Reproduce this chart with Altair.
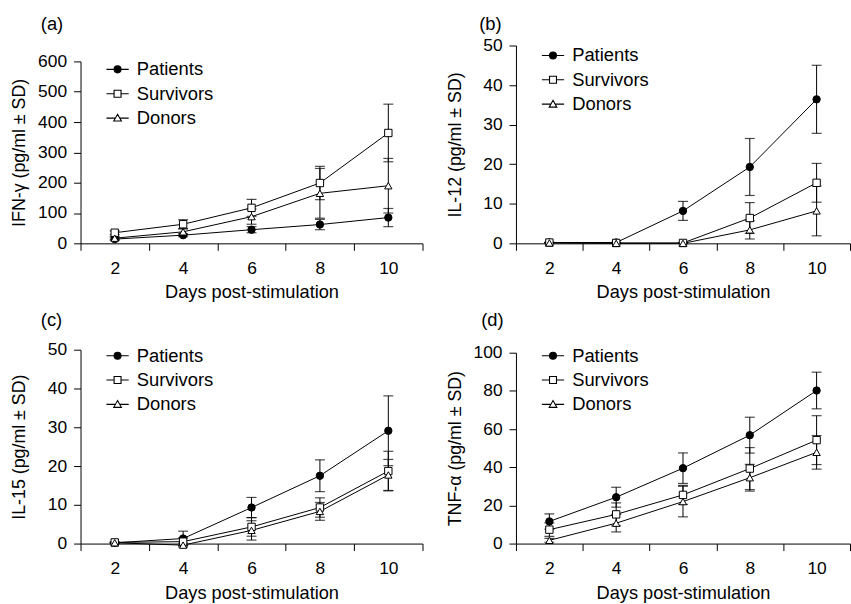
import altair as alt
import pandas as pd

days = ["2", "4", "6", "8", "10"]
series = ["Patients", "Survivors", "Donors"]

# Panel (a) IFN-gamma
a_pat = [14, 27, 45, 62, 85]
a_pat_sd = [4, 5, 10, 17, 30]
a_sur = [35, 63, 117, 199, 364]
a_sur_sd = [6, 15, 28, 55, 95]
a_don = [17, 38, 88, 165, 190]
a_don_sd = [5, 10, 25, 82, 90]

# Panel (b) IL-12
b_pat = [0.2, 0.2, 8.2, 19.3, 36.4]
b_pat_sd = [0.1, 0.1, 2.4, 7.2, 8.6]
b_sur = [0.2, 0.1, 0.1, 6.4, 15.3]
b_sur_sd = [0.0, 0.0, 0.1, 3.9, 4.9]
b_don = [0.1, 0.0, 0.0, 3.4, 8.2]
b_don_sd = [0.0, 0.0, 0.0, 2.3, 6.3]

# Panel (c) IL-15
c_pat = [0.2, 1.3, 9.3, 17.5, 29.1]
c_pat_sd = [0.2, 1.9, 2.6, 4.1, 9.0]
c_sur = [0.3, 0.5, 4.3, 9.3, 18.7]
c_sur_sd = [0.1, 1.0, 2.4, 2.5, 5.1]
c_don = [0.2, -0.4, 3.4, 8.3, 17.7]
c_don_sd = [0.1, 0.5, 2.5, 2.3, 4.0]

# Panel (d) TNF-alpha
d_pat = [11.6, 24.3, 39.5, 56.8, 80.2]
d_pat_sd = [4.0, 5.2, 8.0, 9.4, 9.6]
d_sur = [7.3, 15.3, 25.5, 39.3, 54.2]
d_sur_sd = [3.5, 6.0, 5.0, 11.0, 12.8]
d_don = [1.7, 10.7, 22.0, 34.5, 47.8]
d_don_sd = [1.0, 4.6, 8.0, 7.0, 8.8]

FONT = "Liberation Sans"
FS_TICK = 17.5
FS_YT = 17.9
FS_XT = 18.3
FS_LEG = 18.5
FS_TAG = 18.5

# legend glyphs: marker with a short line through it
LEG_PATHS = [
    "M-3.2,0H-1M1,0H3.2M-1,0A1,1 0 1,0 1,0A1,1 0 1,0 -1,0Z",
    "M-3.2,0H-1M1,0H3.2M-1,-1H1V1H-1Z",
    "M-3.2,0H-0.55M0.55,0H3.2M0,-1.1L1.1,0.85H-1.1Z",
]


def make_df(vals):
    rows = []
    for s, (m, sd) in zip(series, vals):
        for d, mv, sv in zip(days, m, sd):
            rows.append({"day": d, "series": s, "mean": mv, "lo": mv - sv, "hi": mv + sv})
    return pd.DataFrame(rows)


legend_df = pd.DataFrame({"series": series, "day": ["2"] * 3, "mean": [None] * 3})


def leg_props(leg_y):
    return dict(
        title=None,
        orient="none",
        legendX=17,
        legendY=leg_y,
        symbolSize=49,
        symbolStrokeWidth=1.1,
        symbolStrokeColor="black",
        symbolOpacity=1,
        symbolOffset=11,
        labelOffset=10,
        labelFontSize=FS_LEG,
        labelFont=FONT,
        labelColor="black",
        rowPadding=5.5,
    )


def panel(df, label, ytitle, ymax, ystep, width, height, top, lab_dx, lab_dy, leg_y):
    X = alt.X(
        "day:O",
        sort=days,
        scale=alt.Scale(type="band", paddingInner=0, paddingOuter=0),
        axis=alt.Axis(
            title="Days post-stimulation",
            titleFontSize=FS_XT,
            labelAngle=0,
            tickBand="extent",
            labelPadding=9,
            titlePadding=7.3,
        ),
    )
    # value axis runs from the bottom of the panel up to `top` px below its top edge
    yscale = alt.Scale(domain=[0, ymax], nice=False, zero=False, range=[height, top])
    yaxis = alt.Axis(
        title=ytitle,
        titleFontSize=FS_YT,
        values=list(range(0, ymax + 1, ystep)),
        labelOverlap=False,
        labelPadding=7,
        titleX=-52,
        titleY=(height + top) / 2,
    )
    base = alt.Chart(df)
    rules = base.mark_rule(color="black", strokeWidth=1).encode(
        x=X, y=alt.Y("lo:Q", scale=yscale, axis=yaxis), y2="hi:Q"
    )
    cap_hi = base.mark_tick(orient="horizontal", size=10, thickness=1.2, color="black").encode(
        x=X, y=alt.Y("hi:Q", scale=yscale, axis=yaxis)
    )
    cap_lo = base.mark_tick(orient="horizontal", size=10, thickness=1.2, color="black").encode(
        x=X, y=alt.Y("lo:Q", scale=yscale, axis=yaxis)
    )
    lines = base.mark_line(color="black", strokeWidth=1).encode(
        x=X, y=alt.Y("mean:Q", scale=yscale, axis=yaxis), detail="series:N"
    )
    pts = base.mark_point(stroke="black", strokeWidth=1, opacity=1, fillOpacity=1, size=55).encode(
        x=X,
        y=alt.Y("mean:Q", scale=yscale, axis=yaxis),
        shape=alt.Shape(
            "series:N",
            scale=alt.Scale(domain=series, range=["circle", "square", "triangle-up"]),
            legend=None,
        ),
        fill=alt.Fill(
            "series:N",
            scale=alt.Scale(domain=series, range=["black", "white", "white"]),
            legend=None,
        ),
    )
    leg = alt.Chart(legend_df).mark_point(
        strokeWidth=1.1, opacity=1, fillOpacity=1, strokeOpacity=1, size=49
    ).encode(
        x=X,
        y=alt.Y("mean:Q", scale=yscale, axis=yaxis),
        shape=alt.Shape(
            "series:N",
            scale=alt.Scale(domain=series, range=LEG_PATHS),
            legend=alt.Legend(**leg_props(leg_y)),
        ),
        fill=alt.Fill(
            "series:N",
            scale=alt.Scale(domain=series, range=["black", "white", "white"]),
            legend=alt.Legend(**leg_props(leg_y)),
        ),
        stroke=alt.Stroke(
            "series:N",
            scale=alt.Scale(domain=series, range=["black", "black", "black"]),
            legend=alt.Legend(**leg_props(leg_y)),
        ),
    )
    tag = alt.Chart(pd.DataFrame({"t": [label]})).mark_text(
        align="left", baseline="middle", fontSize=FS_TAG, font=FONT, color="black"
    ).encode(text="t:N", x=alt.value(lab_dx), y=alt.value(lab_dy))
    return (
        alt.layer(rules, cap_hi, cap_lo, lines, pts, leg, tag)
        .resolve_scale(shape="independent", fill="independent", stroke="independent")
        .properties(width=width, height=height)
    )


df_a = make_df([(a_pat, a_pat_sd), (a_sur, a_sur_sd), (a_don, a_don_sd)])
df_b = make_df([(b_pat, b_pat_sd), (b_sur, b_sur_sd), (b_don, b_don_sd)])
df_c = make_df([(c_pat, c_pat_sd), (c_sur, c_sur_sd), (c_don, c_don_sd)])
df_d = make_df([(d_pat, d_pat_sd), (d_sur, d_sur_sd), (d_don, d_don_sd)])

pa = panel(df_a, "(a)", "IFN-γ (pg/ml ± SD)", 600, 100, 344, 199, 16, -40, -22, 14.75)
pb = panel(df_b, "(b)", "IL-12 (pg/ml ± SD)", 50, 10, 336, 199, 0, -37, -22, 0.75)
pc = panel(df_c, "(c)", "IL-15 (pg/ml ± SD)", 50, 10, 344, 195, 0, -40, -30, -3.25)
pd_ = panel(df_d, "(d)", "TNF-α (pg/ml ± SD)", 100, 20, 336, 195, 3, -35, -30, -3.25)

chart = (
    alt.vconcat(
        alt.hconcat(pa, pb, spacing=22),
        alt.hconcat(pc, pd_, spacing=22),
        spacing=9,
    )
    .properties(padding={"left": 10, "top": 13, "right": 0, "bottom": 0}, background="white")
    .configure_view(stroke=None)
    .configure_axis(
        grid=False,
        domainColor="black",
        tickColor="black",
        labelColor="black",
        titleColor="black",
        labelFont=FONT,
        titleFont=FONT,
        labelFontSize=FS_TICK,
        titleFontWeight="normal",
        tickSize=7,
        domainWidth=1,
        tickWidth=1,
    )
)

chart.save("out.html", embed_options={"renderer": "svg", "actions": False})
